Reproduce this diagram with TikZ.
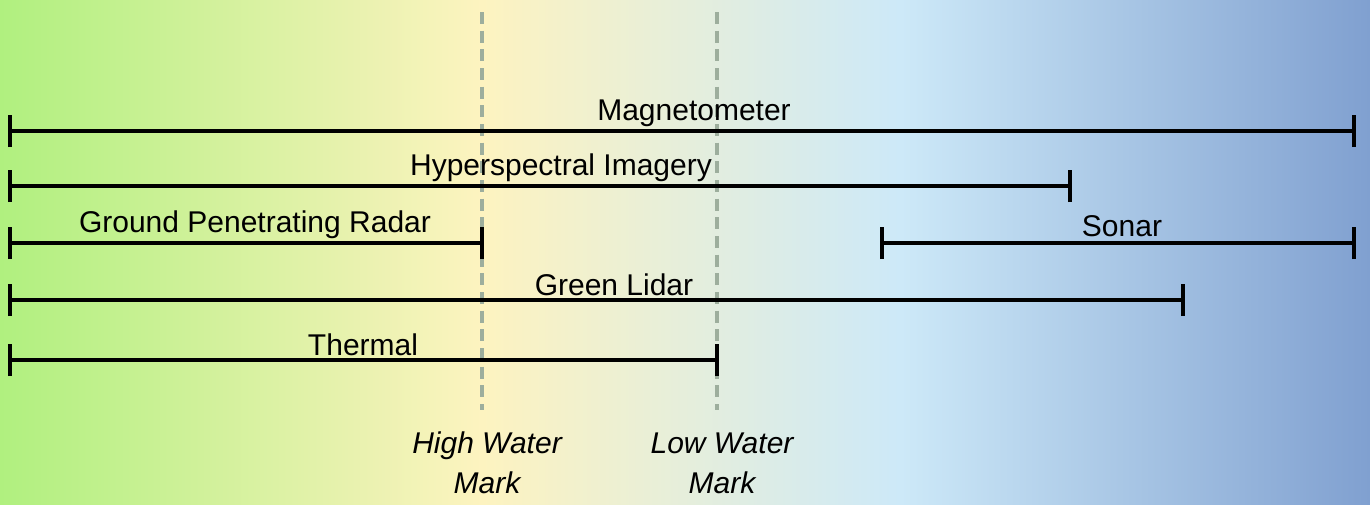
\documentclass[tikz,border=0pt]{standalone}
\usepackage{fontspec}
\setmainfont{Liberation Sans}
\definecolor{shoreGreen}{HTML}{B0F07F}
\definecolor{shoreYellow}{HTML}{FDF3C0}
\definecolor{shoreSky}{HTML}{CDE9F8}
\definecolor{shoreBlue}{HTML}{80A0D0}
\definecolor{markGray}{HTML}{9DAE9D}
\tikzset{
  rangebar/.style={line width=2.6pt, black},
  rangelabel/.style={anchor=south, inner sep=1pt, font=\fontsize{22.5}{26}\selectfont},
  markline/.style={draw=markGray, line width=2.4pt, dash pattern=on 9pt off 5pt},
  marklabel/.style={align=center, font=\fontsize{22.5}{30}\selectfont\itshape}
}
\newcommand{\rangeline}[4]{% name, x0, x1, y
  \coordinate (#1-a) at (#2,#4);
  \coordinate (#1-b) at (#3,#4);
  \draw[rangebar] (#1-a) -- (#1-b);
  \draw[rangebar] ([yshift=-12]#1-a) -- ([yshift=12]#1-a);
  \draw[rangebar] ([yshift=-12]#1-b) -- ([yshift=12]#1-b);
}
\begin{document}
\begin{tikzpicture}[x=0.75pt, y=-0.75pt]
    \useasboundingbox (0,0) rectangle (1370,504);
    % background gradient
    \shade[left color=shoreGreen, right color=shoreYellow] (0,0) rectangle (482,504);
    \shade[left color=shoreYellow, right color=shoreSky] (482,0) rectangle (900,504);
    \shade[left color=shoreSky, right color=shoreBlue] (900,0) rectangle (1370,504);

    % water marks
    \coordinate (high-top) at (482,12);
    \coordinate (high-bot) at (482,410);
    \coordinate (low-top) at (717,12);
    \coordinate (low-bot) at (717,410);
    \draw[markline] (high-top) -- (high-bot);
    \draw[markline] (low-top) -- (low-bot);
    \node[marklabel] (high) at (487,463) {High Water\\Mark};
    \node[marklabel] (low) at (722,463) {Low Water\\Mark};

    % sensor ranges
    \rangeline{mag}{10}{1354}{131}
    \rangeline{hyper}{10}{1070}{186}
    \rangeline{gpr}{10}{482}{243}
    \rangeline{sonar}{882}{1354}{243}
    \rangeline{lidar}{10}{1183}{300}
    \rangeline{thermal}{10}{717}{360}

    \node[rangelabel] (magL) at (694,128) {Magnetometer};
    \node[rangelabel] (hyperL) at (561,183) {Hyperspectral Imagery};
    \node[rangelabel] (gprL) at (255,240) {Ground Penetrating Radar};
    \node[rangelabel] (sonarL) at (1122,238) {Sonar};
    \node[rangelabel] (lidarL) at (614,297) {Green Lidar};
    \node[rangelabel] (thermalL) at (363,357) {Thermal};
\end{tikzpicture}
\end{document}
